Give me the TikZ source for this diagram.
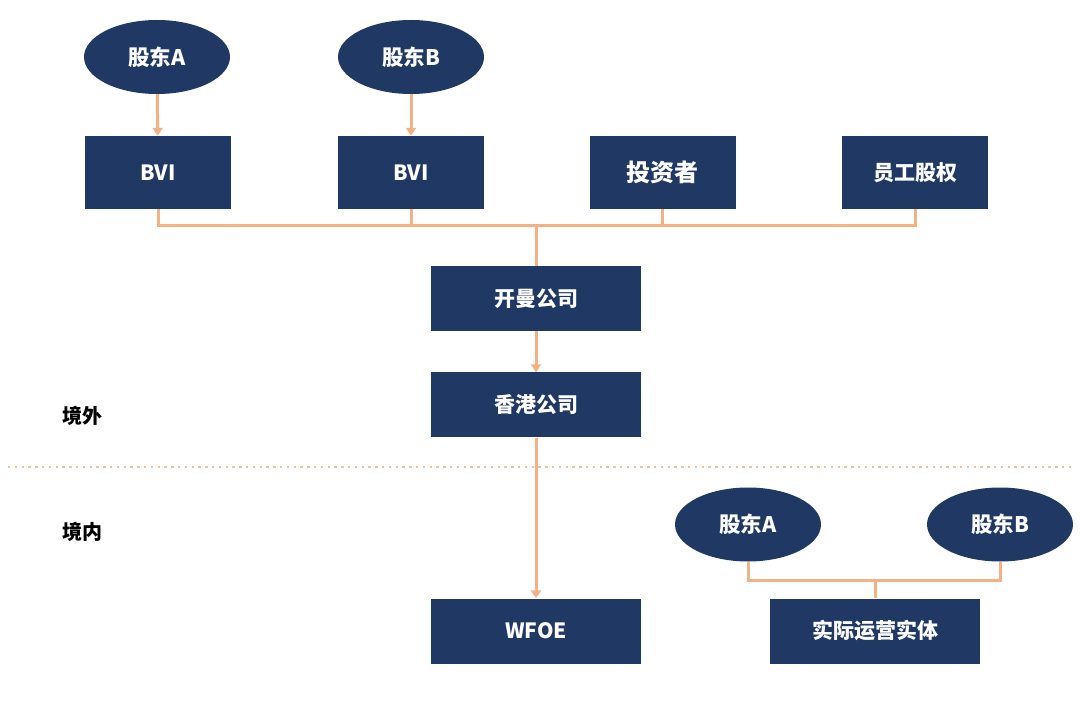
\documentclass[tikz,border=0pt]{standalone}
\usepackage{fontspec}
\setmainfont{Noto Sans CJK SC}
\newfontfamily\cjk{Noto Sans CJK SC}
\usetikzlibrary{shapes.geometric,arrows.meta}
\definecolor{navy}{HTML}{1F3864}
\definecolor{peach}{HTML}{F4B183}
\tikzset{
  entbox/.style={draw=none,fill=navy,text=white,font=\cjk\bfseries\fontsize{21}{25}\selectfont,inner sep=0pt},
  holder/.style={ellipse,draw=none,fill=navy,text=white,font=\cjk\bfseries\fontsize{21.5}{25}\selectfont,minimum width=146pt,minimum height=74pt,inner sep=0pt},
  link/.style={draw=peach,line width=3pt},
  arr/.style={link,-{Triangle[width=10pt,length=8pt]}},
  zone/.style={text=black,font=\cjk\bfseries\fontsize{20}{24}\selectfont},
}
\begin{document}
\begin{tikzpicture}[x=1pt,y=-1pt]
\useasboundingbox (0,0) rectangle (1080,711);
\fill[white] (0,0) rectangle (1080,711);
% top shareholders
\node[holder] (sa) at (157,57) {股东A};
\node[holder] (sb) at (411,57) {股东B};
% BVI row
\node[entbox,minimum width=146pt,minimum height=73pt] (bvi1) at (158,172.5) {BVI};
\node[entbox,minimum width=146pt,minimum height=73pt] (bvi2) at (411,172.5) {BVI};
\node[entbox,minimum width=146pt,minimum height=73pt,font=\cjk\bfseries\fontsize{24}{28}\selectfont] (inv) at (662.5,172.5) {投资者};
\node[entbox,minimum width=146pt,minimum height=73pt] (emp) at (915,172.5) {员工股权};
% middle chain
\node[entbox,minimum width=210pt,minimum height=65pt] (cay) at (536,298.5) {开曼公司};
\node[entbox,minimum width=210pt,minimum height=65pt] (hk) at (536,405) {香港公司};
\node[entbox,minimum width=210pt,minimum height=65pt] (wfoe) at (536,631) {WFOE};
% domestic
\node[holder] (da) at (748,524.5) {股东A};
\node[holder] (db) at (1000,524.5) {股东B};
\node[entbox,minimum width=210pt,minimum height=65pt] (op) at (875,631) {实际运营实体};
% zone labels
\node[zone] (out) at (82,416) {境外};
\node[zone] (in) at (82,532) {境内};
% bus coordinates
\coordinate (bus) at (536,226);
\coordinate (bus2) at (875,580);
\coordinate (dl) at (8,467);
\coordinate (dr) at (1075,467);
% connectors
\draw[arr] (sa) -- (bvi1);
\draw[arr] (sb) -- (bvi2);
\draw[link] (bvi1.south) |- (bus) -| (emp.south);
\draw[link] (bvi2.south) -- (bvi2.south |- bus);
\draw[link] (inv.south) -- (inv.south |- bus);
\draw[link] (bus) -- (cay.north);
\draw[arr] (cay) -- (hk);
\draw[arr] (hk) -- (wfoe);
\draw[link] (da.south) |- (bus2) -| (db.south);
\draw[link] (bus2) -- (op.north);
% border line
\draw[draw=peach!85,line width=2.6pt,dash pattern=on 2.4pt off 4.4pt] (dl) -- (dr);
\end{tikzpicture}
\end{document}
